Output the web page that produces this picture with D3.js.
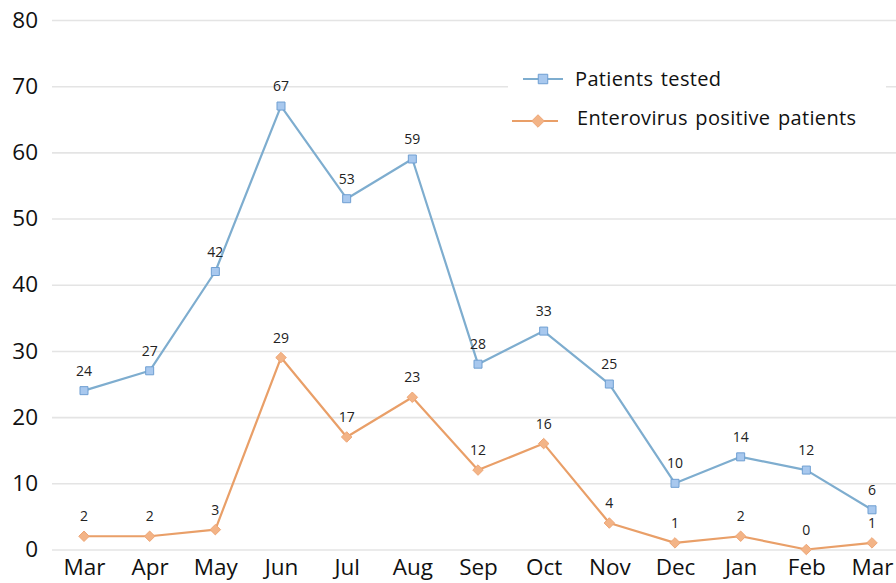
<!DOCTYPE html>
<html><head><meta charset="utf-8">
<script src="https://cdn.jsdelivr.net/npm/d3@7"></script>
<style>
html,body{margin:0;padding:0;background:#fff;}
svg{display:block;font-family:"Open Sans","Noto Sans",sans-serif;}
</style></head>
<body>
<svg id="chart" width="896" height="583"></svg>
<script>
const months = ["Mar","Apr","May","Jun","Jul","Aug","Sep","Oct","Nov","Dec","Jan","Feb","Mar"];
const patientsTested = [24,27,42,67,53,59,28,33,25,10,14,12,6];
const enterovirusPositive = [2,2,3,29,17,23,12,16,4,1,2,0,1];
const yTicks = [0,10,20,30,40,50,60,70,80];
const seriesNames = ["Patients tested","Enterovirus positive patients"];

const FONT = '"Open Sans","Noto Sans",sans-serif';
const svg = d3.select("#chart");
const x = d3.scalePoint().domain(d3.range(months.length)).range([84,872]);
const y = d3.scaleLinear().domain([0,80]).range([549.5,20]);

// gridlines
const yAxis = d3.axisLeft(y).tickValues(yTicks).tickSize(-844).tickPadding(14);
const gy = svg.append("g").attr("transform","translate(52,0)").call(yAxis)
  .attr("font-family",FONT);
gy.select(".domain").remove();
gy.selectAll(".tick line").attr("stroke","#e4e4e4").attr("stroke-width",1.6);
gy.selectAll(".tick text").attr("fill","#111").attr("font-size","22.5px");

// x axis labels
const xAxis = d3.axisBottom(x).tickFormat(i=>months[i]).tickSize(0).tickPadding(7);
const gx = svg.append("g").attr("transform","translate(0,552)").call(xAxis)
  .attr("font-family",FONT);
gx.select(".domain").remove();
gx.selectAll(".tick text").attr("fill","#111").attr("font-size","22.5px");

const blueLine = "#7eadcf", blueFill = "#a8c8ee", blueStroke = "#6f9fd2";
const orangeLine = "#e99f68", orangeFill = "#f3b487", orangeStroke = "#eea676";

const line = d3.line().x((d,i)=>x(i)).y(d=>y(d));

// legend background
svg.append("rect").attr("x",508).attr("y",58).attr("width",378).attr("height",86).attr("fill","#fff");

// series
function drawSeries(data, col, fill, stroke, shape, size){
  svg.append("path").datum(data).attr("d",line).attr("fill","none")
    .attr("stroke",col).attr("stroke-width",2.2).attr("stroke-linejoin","round");
  const sym = d3.symbol().type(shape).size(size);
  svg.selectAll(null).data(data).enter().append("path")
    .attr("d",sym)
    .attr("transform",(d,i)=>`translate(${x(i)},${y(d)})`)
    .attr("fill",fill).attr("stroke",stroke).attr("stroke-width",1);
  svg.selectAll(null).data(data).enter().append("text")
    .attr("x",(d,i)=>x(i)).attr("y",d=>y(d)-15)
    .attr("text-anchor","middle").attr("font-size","14px").attr("fill","#222")
    .text(d=>d);
}
drawSeries(patientsTested, blueLine, blueFill, blueStroke, d3.symbolSquare, 64);
drawSeries(enterovirusPositive, orangeLine, orangeFill, orangeStroke, d3.symbolDiamond2, 70);

// legend
const lg = svg.append("g");
lg.append("line").attr("x1",523).attr("x2",563).attr("y1",79).attr("y2",79).attr("stroke",blueLine).attr("stroke-width",2.2);
lg.append("path").attr("d",d3.symbol().type(d3.symbolSquare).size(90)()).attr("transform","translate(543,79)").attr("fill",blueFill).attr("stroke",blueStroke);
lg.append("text").attr("x",575).attr("y",86).attr("font-size","20px").attr("letter-spacing","0.35px").attr("word-spacing","2px").attr("fill","#111").text(seriesNames[0]);
lg.append("line").attr("x1",512).attr("x2",558).attr("y1",121).attr("y2",121).attr("stroke",orangeLine).attr("stroke-width",2.2);
lg.append("path").attr("d",d3.symbol().type(d3.symbolDiamond2).size(100)()).attr("transform","translate(538,121)").attr("fill",orangeFill).attr("stroke",orangeStroke);
lg.append("text").attr("x",577).attr("y",125).attr("font-size","20px").attr("letter-spacing","0.35px").attr("word-spacing","2px").attr("fill","#111").text(seriesNames[1]);
</script>
</body></html>
